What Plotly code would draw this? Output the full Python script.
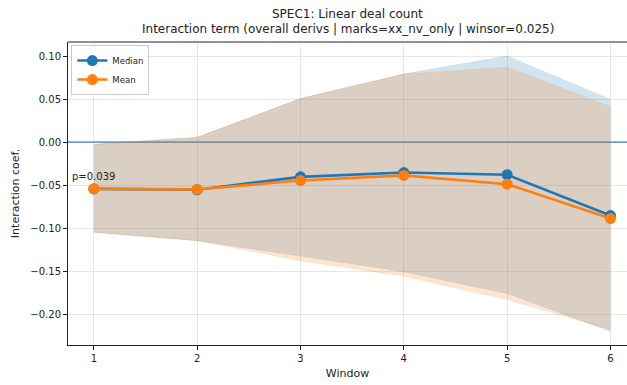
import plotly.graph_objects as go

# Event windows
windows = [1, 2, 3, 4, 5, 6]

# Interaction coefficient: median and mean across draws
median_coef = [-0.0545, -0.0555, -0.0405, -0.0355, -0.0380, -0.0855]
mean_coef = [-0.0542, -0.0550, -0.0448, -0.0388, -0.0490, -0.0890]

# Confidence bands
median_lo = [-0.105, -0.1147, -0.1326, -0.1508, -0.1760, -0.2200]
median_hi = [-0.0027, 0.0055, 0.0505, 0.0790, 0.1000, 0.0495]
mean_lo = [-0.105, -0.1147, -0.1380, -0.1560, -0.1830, -0.2180]
mean_hi = [-0.0027, 0.0055, 0.0505, 0.0790, 0.0870, 0.0410]

p_label = "p=0.039"
p_label_y = -0.040

BLUE = "#1f77b4"
ORANGE = "#ff7f0e"
FONT = "DejaVu Sans"

fig = go.Figure()

# Bands: blue first, then orange on top
for lo, hi, rgba in [
    (median_lo, median_hi, "rgba(31,119,180,0.2)"),
    (mean_lo, mean_hi, "rgba(255,127,14,0.2)"),
]:
    fig.add_trace(go.Scatter(x=windows, y=lo, mode="lines", line=dict(width=0.6, color=rgba),
                             showlegend=False, hoverinfo="skip"))
    fig.add_trace(go.Scatter(x=windows, y=hi, mode="lines", line=dict(width=0.6, color=rgba),
                             fill="tonexty", fillcolor=rgba, showlegend=False, hoverinfo="skip"))

fig.add_trace(go.Scatter(x=windows, y=median_coef, mode="lines+markers", name="Median",
                         line=dict(color=BLUE, width=2.6), marker=dict(color=BLUE, size=11)))
fig.add_trace(go.Scatter(x=windows, y=mean_coef, mode="lines+markers", name="Mean",
                         line=dict(color=ORANGE, width=2.6), marker=dict(color=ORANGE, size=11)))

# Zero reference line across the axes
fig.add_shape(type="line", xref="paper", x0=0, x1=1, yref="y", y0=0, y1=0,
              line=dict(color=BLUE, width=1.3), layer="below")
# Top spine
fig.add_shape(type="line", xref="paper", x0=0, x1=1, yref="paper", y0=1, y1=1,
              line=dict(color="#222222", width=1))

fig.add_annotation(x=windows[0], y=p_label_y, text=p_label, showarrow=False,
                   xanchor="center", yanchor="middle", font=dict(size=10, color="#222222", family=FONT))

# Two-line title
fig.add_annotation(xref="paper", yref="paper", x=0.5, y=1, yshift=19, text="SPEC1: Linear deal count",
                   showarrow=False, xanchor="center", yanchor="bottom",
                   font=dict(size=12, color="#222222", family=FONT))
fig.add_annotation(xref="paper", yref="paper", x=0.5, y=1, yshift=4,
                   text="Interaction term (overall derivs | marks=xx_nv_only | winsor=0.025)",
                   showarrow=False, xanchor="center", yanchor="bottom",
                   font=dict(size=12, color="#222222", family=FONT))

fig.update_layout(
    width=627, height=385,
    margin=dict(l=68, r=0, t=42, b=40),
    paper_bgcolor="white", plot_bgcolor="white",
    font=dict(family=FONT, size=10, color="#222222"),
    legend=dict(x=0.006, y=0.99, xanchor="left", yanchor="top", traceorder="normal",
                bgcolor="rgba(255,255,255,0.85)", bordercolor="#cccccc", borderwidth=1,
                font=dict(size=8.5), itemwidth=30, tracegroupgap=0),
    showlegend=True,
)
fig.update_xaxes(range=[0.75, 6.16], tickvals=windows, ticks="outside", ticklen=4,
                 tickcolor="#222222", showline=True, linecolor="#222222", linewidth=1,
                 showgrid=True, gridcolor="rgba(176,176,176,0.3)", zeroline=False,
                 title=dict(text="Window", font=dict(size=11), standoff=6))
fig.update_yaxes(range=[-0.236, 0.1163], tickvals=[-0.20, -0.15, -0.10, -0.05, 0.0, 0.05, 0.10],
                 tickformat=".2f", ticks="outside", ticklen=4, tickcolor="#222222",
                 showline=True, linecolor="#222222", linewidth=1,
                 showgrid=True, gridcolor="rgba(176,176,176,0.3)", zeroline=False,
                 title=dict(text="Interaction coef.", font=dict(size=11), standoff=8))

fig.write_html("out.html")
